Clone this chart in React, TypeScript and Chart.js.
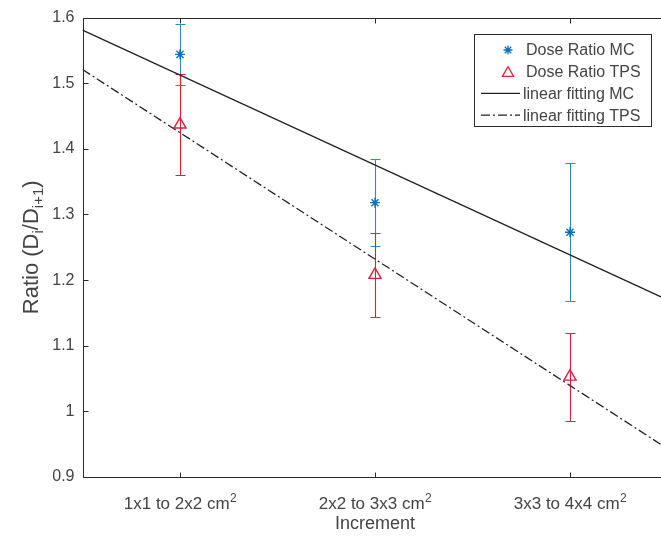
import React, { useEffect, useRef } from 'react';
import { Chart, registerables } from 'chart.js';

Chart.register(...registerables);

// ---------- data ----------
const CATEGORIES = ['1x1 to 2x2 cm', '2x2 to 3x3 cm', '3x3 to 4x4 cm'];
const CATEGORY_SUP = '2';
const X_POS = [1, 2, 3];
const MC_RATIO = [1.544, 1.318, 1.273];
const MC_ERR = [0.046, 0.066, 0.105];
const TPS_RATIO = [1.437, 1.208, 1.053];
const TPS_ERR = [0.077, 0.064, 0.067];
const FIT_X = [0.5, 3.5];
const FIT_MC = [1.581, 1.17];
const FIT_TPS = [1.521, 0.943];
const Y_TICKS = [0.9, 1.0, 1.1, 1.2, 1.3, 1.4, 1.5, 1.6];
const Y_TICK_LABELS = ['0.9', '1', '1.1', '1.2', '1.3', '1.4', '1.5', '1.6'];
const X_TITLE = 'Increment';
const Y_TITLE_PARTS: [string, boolean][] = [
  ['Ratio (D', false],
  ['i', true],
  ['/D', false],
  ['i+1', true],
  [')', false],
];
const LEGEND_LABELS = ['Dose Ratio MC', 'Dose Ratio TPS', 'linear fitting MC', 'linear fitting TPS'];

// ---------- style ----------
const FONT = "'Liberation Sans', Arial, Helvetica, sans-serif";
const TEXT = '#444444';
const AXIS = '#2a2a2a';
const BLUE = '#0a6fb8';
const BLUE_BAR = '#2a8cbf';
const RED = '#d4233a';
const FIT = '#222222';
const DASHDOT = [9, 3, 2, 3];
const CANVAS_W = 690;
const CANVAS_H = 542;

function drawStar(ctx: CanvasRenderingContext2D, x: number, y: number, r: number) {
  ctx.beginPath();
  ctx.moveTo(x - r, y); ctx.lineTo(x + r, y);
  ctx.moveTo(x, y - r); ctx.lineTo(x, y + r);
  const d = r * Math.SQRT1_2;
  ctx.moveTo(x - d, y - d); ctx.lineTo(x + d, y + d);
  ctx.moveTo(x - d, y + d); ctx.lineTo(x + d, y - d);
  ctx.stroke();
}

function drawTriangle(ctx: CanvasRenderingContext2D, x: number, y: number, r: number) {
  ctx.beginPath();
  let rad = 0;
  for (let k = 0; k < 3; k++) {
    const px = x + Math.sin(rad) * r;
    const py = y - Math.cos(rad) * r;
    if (k === 0) ctx.moveTo(px, py); else ctx.lineTo(px, py);
    rad += (2 * Math.PI) / 3;
  }
  ctx.closePath();
  ctx.stroke();
}

const decorPlugin = {
  id: 'decor',
  beforeDatasetsDraw(chart: any) {
    const { ctx } = chart;
    const xs = chart.scales.x;
    const ys = chart.scales.y;
    const cap = 5;
    const bars = (vals: number[], errs: number[], color: string) => {
      ctx.save();
      ctx.strokeStyle = color;
      ctx.lineWidth = 1.1;
      ctx.beginPath();
      for (let i = 0; i < vals.length; i++) {
        const x = Math.round(xs.getPixelForValue(X_POS[i])) + 0.5;
        const yt = Math.round(ys.getPixelForValue(vals[i] + errs[i])) + 0.5;
        const yb = Math.round(ys.getPixelForValue(vals[i] - errs[i])) + 0.5;
        ctx.moveTo(x, yt); ctx.lineTo(x, yb);
        ctx.moveTo(x - cap, yt); ctx.lineTo(x + cap, yt);
        ctx.moveTo(x - cap, yb); ctx.lineTo(x + cap, yb);
      }
      ctx.stroke();
      ctx.restore();
    };
    bars(MC_RATIO, MC_ERR, BLUE_BAR);
    bars(TPS_RATIO, TPS_ERR, RED);
  },
  afterDraw(chart: any) {
    const { ctx, chartArea } = chart;
    const xs = chart.scales.x;
    const ys = chart.scales.y;
    const L = Math.round(chartArea.left) + 0.5;
    const R = Math.round(chartArea.right) + 0.5;
    const T = Math.round(chartArea.top) + 0.5;
    const B = Math.round(chartArea.bottom) + 0.5;
    ctx.save();
    // box
    ctx.strokeStyle = AXIS;
    ctx.lineWidth = 1;
    ctx.beginPath();
    ctx.rect(L, T, R - L, B - T);
    ctx.stroke();
    // inward ticks
    const tl = 5;
    ctx.beginPath();
    for (const v of Y_TICKS) {
      const y = Math.round(ys.getPixelForValue(v)) + 0.5;
      ctx.moveTo(L, y); ctx.lineTo(L + tl, y);
      ctx.moveTo(R, y); ctx.lineTo(R - tl, y);
    }
    for (const v of X_POS) {
      const x = Math.round(xs.getPixelForValue(v)) + 0.5;
      ctx.moveTo(x, B); ctx.lineTo(x, B - tl);
      ctx.moveTo(x, T); ctx.lineTo(x, T + tl);
    }
    ctx.stroke();

    // x tick labels with superscript
    ctx.fillStyle = TEXT;
    ctx.textBaseline = 'alphabetic';
    ctx.textAlign = 'left';
    const baseFont = `17px ${FONT}`;
    const supFont = `12px ${FONT}`;
    for (let i = 0; i < CATEGORIES.length; i++) {
      const x = xs.getPixelForValue(X_POS[i]);
      ctx.font = baseFont;
      const w1 = ctx.measureText(CATEGORIES[i]).width;
      ctx.font = supFont;
      const w2 = ctx.measureText(CATEGORY_SUP).width;
      const start = x - (w1 + w2) / 2;
      ctx.font = baseFont;
      ctx.fillText(CATEGORIES[i], start, 509);
      ctx.font = supFont;
      ctx.fillText(CATEGORY_SUP, start + w1 + 0.5, 502);
    }

    // x title
    ctx.font = `18px ${FONT}`;
    ctx.textAlign = 'center';
    ctx.fillText(X_TITLE, (chartArea.left + chartArea.right) / 2, 529);

    // y title (rotated, with subscripts)
    ctx.save();
    ctx.translate(38, (chartArea.top + chartArea.bottom) / 2);
    ctx.rotate(-Math.PI / 2);
    ctx.textAlign = 'left';
    const mainF = `22px ${FONT}`;
    const subF = `15px ${FONT}`;
    let total = 0;
    for (const [s, sub] of Y_TITLE_PARTS) {
      ctx.font = sub ? subF : mainF;
      total += ctx.measureText(s).width;
    }
    let cx = -total / 2;
    for (const [s, sub] of Y_TITLE_PARTS) {
      ctx.font = sub ? subF : mainF;
      ctx.fillText(s, cx, sub ? 5 : 0);
      cx += ctx.measureText(s).width;
    }
    ctx.restore();

    // legend
    const lx = 474.5, ly = 34.5, lw = 177, lh = 92;
    ctx.fillStyle = '#ffffff';
    ctx.fillRect(lx, ly, lw, lh);
    ctx.strokeStyle = AXIS;
    ctx.lineWidth = 1;
    ctx.strokeRect(lx, ly, lw, lh);
    const rowY = (k: number) => 50 + k * 21.7;
    ctx.font = `16px ${FONT}`;
    ctx.textAlign = 'left';
    ctx.textBaseline = 'middle';
    ctx.fillStyle = TEXT;
    chart.data.datasets.forEach((ds: any, k: number) => {
      const y = rowY(k);
      ctx.save();
      if (k === 0) {
        ctx.strokeStyle = BLUE; ctx.lineWidth = 1.3;
        drawStar(ctx, 508, y, 4.5);
      } else if (k === 1) {
        ctx.strokeStyle = RED; ctx.lineWidth = 1.3;
        drawTriangle(ctx, 508, y + 1.5, 6.5);
      } else {
        ctx.strokeStyle = FIT; ctx.lineWidth = 1.2;
        ctx.setLineDash(ds.borderDash || []);
        ctx.beginPath();
        ctx.moveTo(481, y); ctx.lineTo(520, y);
        ctx.stroke();
      }
      ctx.restore();
      ctx.fillText(ds.label, k < 2 ? 526 : 523, y + 1);
    });
    ctx.restore();
  },
};

export default function App() {
  const ref = useRef<HTMLCanvasElement | null>(null);
  useEffect(() => {
    if (!ref.current) return;
    const chart = new Chart(ref.current, {
      type: 'scatter',
      data: {
        datasets: [
          {
            label: LEGEND_LABELS[0],
            data: X_POS.map((x, i) => ({ x, y: MC_RATIO[i] })),
            pointStyle: 'star',
            pointRadius: 5,
            pointHoverRadius: 5,
            borderColor: BLUE,
            backgroundColor: BLUE,
            borderWidth: 1.4,
            showLine: false,
            order: 1,
          },
          {
            label: LEGEND_LABELS[1],
            data: X_POS.map((x, i) => ({ x, y: TPS_RATIO[i] })),
            pointStyle: 'triangle',
            pointRadius: 7,
            pointHoverRadius: 7,
            borderColor: RED,
            backgroundColor: 'rgba(0,0,0,0)',
            borderWidth: 1.4,
            showLine: false,
            order: 2,
          },
          {
            label: LEGEND_LABELS[2],
            data: FIT_X.map((x, i) => ({ x, y: FIT_MC[i] })),
            showLine: true,
            pointRadius: 0,
            borderColor: FIT,
            borderWidth: 1.3,
            order: 3,
          },
          {
            label: LEGEND_LABELS[3],
            data: FIT_X.map((x, i) => ({ x, y: FIT_TPS[i] })),
            showLine: true,
            pointRadius: 0,
            borderColor: FIT,
            borderWidth: 1.3,
            borderDash: DASHDOT,
            order: 4,
          },
        ],
      },
      options: {
        responsive: false,
        animation: false,
        devicePixelRatio: 1,
        layout: { padding: { top: 17, right: CANVAS_W - 667.5, left: 0, bottom: 0 } },
        plugins: { legend: { display: false }, tooltip: { enabled: false } },
        scales: {
          x: {
            type: 'linear',
            min: 0.5,
            max: 3.5,
            grid: { display: false, drawTicks: false },
            border: { display: false },
            ticks: { display: false },
            afterBuildTicks: (s: any) => { s.ticks = X_POS.map((v) => ({ value: v })); },
            afterFit: (s: any) => { s.height = CANVAS_H - 477; },
          },
          y: {
            type: 'linear',
            min: 0.9,
            max: 1.6,
            grid: { display: false, drawTicks: false },
            border: { display: false },
            ticks: {
              padding: 8,
              color: TEXT,
              font: { family: FONT, size: 16 },
              callback: (_v: any, i: number) => Y_TICK_LABELS[i],
            },
            afterBuildTicks: (s: any) => { s.ticks = Y_TICKS.map((v) => ({ value: v })); },
            afterFit: (s: any) => { s.width = 82.5; },
          },
        },
      },
      plugins: [decorPlugin],
    } as any);
    return () => chart.destroy();
  }, []);
  return (
    <div style={{ position: 'fixed', left: 0, top: 0, width: 661, height: 542, overflow: 'hidden', background: '#fff' }}>
      <canvas ref={ref} width={CANVAS_W} height={CANVAS_H} style={{ display: 'block' }} />
    </div>
  );
}
